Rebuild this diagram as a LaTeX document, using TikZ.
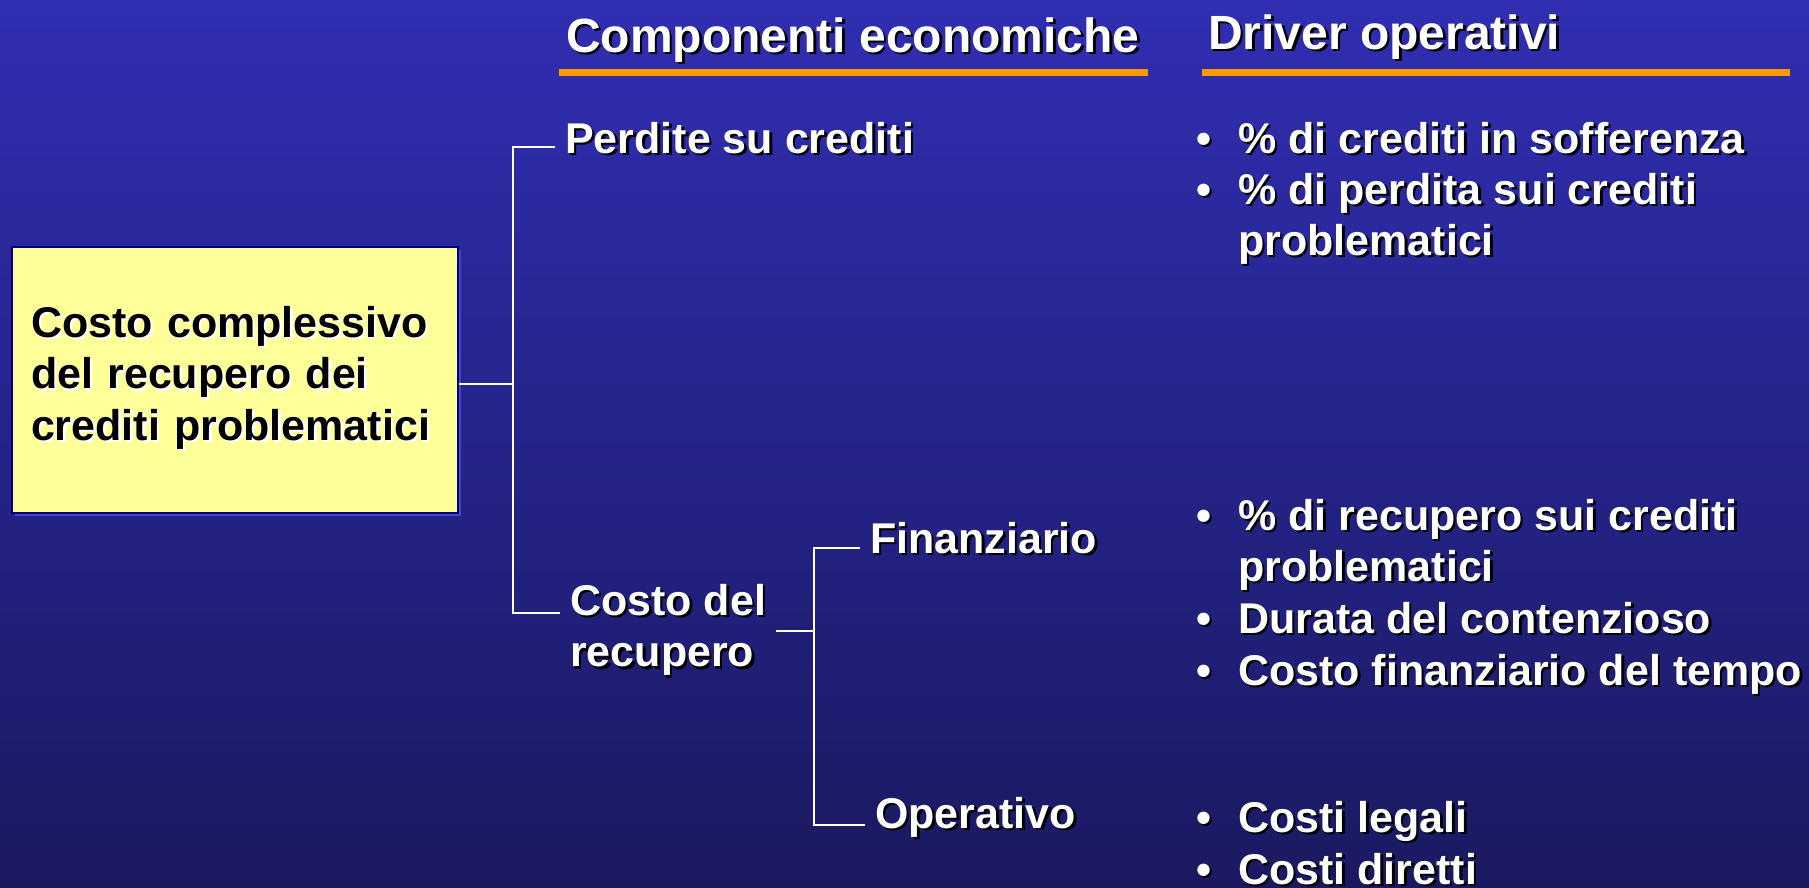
\documentclass[tikz,border=0pt]{standalone}
\usepackage{fontspec}
\setmainfont{Liberation Sans}
\usepackage{tikz}
\usetikzlibrary{calc,shadows}

\definecolor{bgtop}{RGB}{48,46,178}
\definecolor{bgbot}{RGB}{26,25,96}
\definecolor{boxfill}{RGB}{255,255,153}
\definecolor{boxline}{RGB}{0,0,130}
\definecolor{boxshade}{RGB}{70,70,195}
\definecolor{hdrorange}{RGB}{255,153,0}

% text with a small offset shadow
\newcommand{\shtxt}[2][black]{\leavevmode\rlap{\hspace{2.5pt}\raisebox{-2.5pt}{\textcolor{#1}{#2}}}#2}
\newcommand{\bul}[1]{\makebox[42pt][l]{\shtxt{\textbullet}}\shtxt{#1}}

\tikzset{
  lbl/.style={text=white, font=\bfseries\fontsize{43}{51.5}\selectfont, inner xsep=10pt, inner ysep=0pt, anchor=base west},
  hdr/.style={text=white, font=\bfseries\fontsize{48}{56}\selectfont, inner sep=0pt, anchor=base west},
  drv/.style={lbl, inner xsep=0pt},
  link/.style={draw=white, line width=2pt},
  hdrline/.style={draw=hdrorange, line width=7.5pt},
  rootbox/.style={fill=boxfill, draw=boxline, line width=2.5pt, text=black,
    font=\bfseries\fontsize{43}{51.5}\selectfont, text width=408pt, align=left,
    inner xsep=19pt, inner ysep=0pt, minimum width=446pt, minimum height=266pt,
    general shadow={shadow xshift=3pt, shadow yshift=-3pt, fill=boxshade}}
}

\begin{document}
\begin{tikzpicture}[x=1pt, y=-1pt]

  % background
  \shade[top color=bgtop, bottom color=bgbot] (0,0) rectangle (1809,887);
  \useasboundingbox (0,0) rectangle (1809,887);

  % column headers
  \node[hdr] (hdrcomp) at (566,52) {\shtxt{Componenti economiche}};
  \node[hdr] (hdrdrv) at (1208,49) {\shtxt{Driver operativi}};
  \draw[hdrline] (559,72.5) -- (1148,72.5);
  \draw[hdrline] (1202,72.5) -- (1790,72.5);

  % the tree
  \node[rootbox] (root) at (235,380) {\shtxt[white]{Costo complessivo}\\ \shtxt[white]{del recupero dei}\\ \shtxt[white]{crediti problematici}\rule[-14pt]{0pt}{14pt}};
  \node[lbl] (perdite) at (555,153) {\shtxt{Perdite su crediti}};
  \node[lbl, anchor=north west, align=left] (cdr) at (560,584) {\shtxt{Costo del}\\ \shtxt{recupero}};
  \node[lbl] (fin) at (860,553) {\shtxt{Finanziario}};
  \node[lbl] (oper) at (865,828) {\shtxt{Operativo}};

  % connectors
  \coordinate (fork1) at ([xshift=54pt,yshift=-4pt]root.east);
  \draw[link] ([yshift=-4pt]root.east) -- (fork1);
  \draw[link] ([yshift=6pt]perdite.base west) -| (fork1) |- ([yshift=18pt]cdr.west);
  \coordinate (fork2) at ([xshift=38pt]cdr.east);
  \draw[link] (cdr.east) -- (fork2);
  \draw[link] ([yshift=5pt]fin.base west) -| (fork2) |- ([yshift=3pt]oper.base west);

  % drivers
  \foreach \y/\drvtext [count=\i] in {153/{\% di crediti in sofferenza}, 204/{\% di perdita sui crediti},
      530/{\% di recupero sui crediti}, 633/{Durata del contenzioso}, 685/{Costo finanziario del tempo},
      832/{Costi legali}, 884/{Costi diretti}}
    \node[drv] (d\i) at (1196,\y) {\bul{\drvtext}};
  % second lines
  \node[drv] (d2b) at (1238,255) {\shtxt{problematici}};
  \node[drv] (d3b) at (1238,581) {\shtxt{problematici}};

\end{tikzpicture}
\end{document}
